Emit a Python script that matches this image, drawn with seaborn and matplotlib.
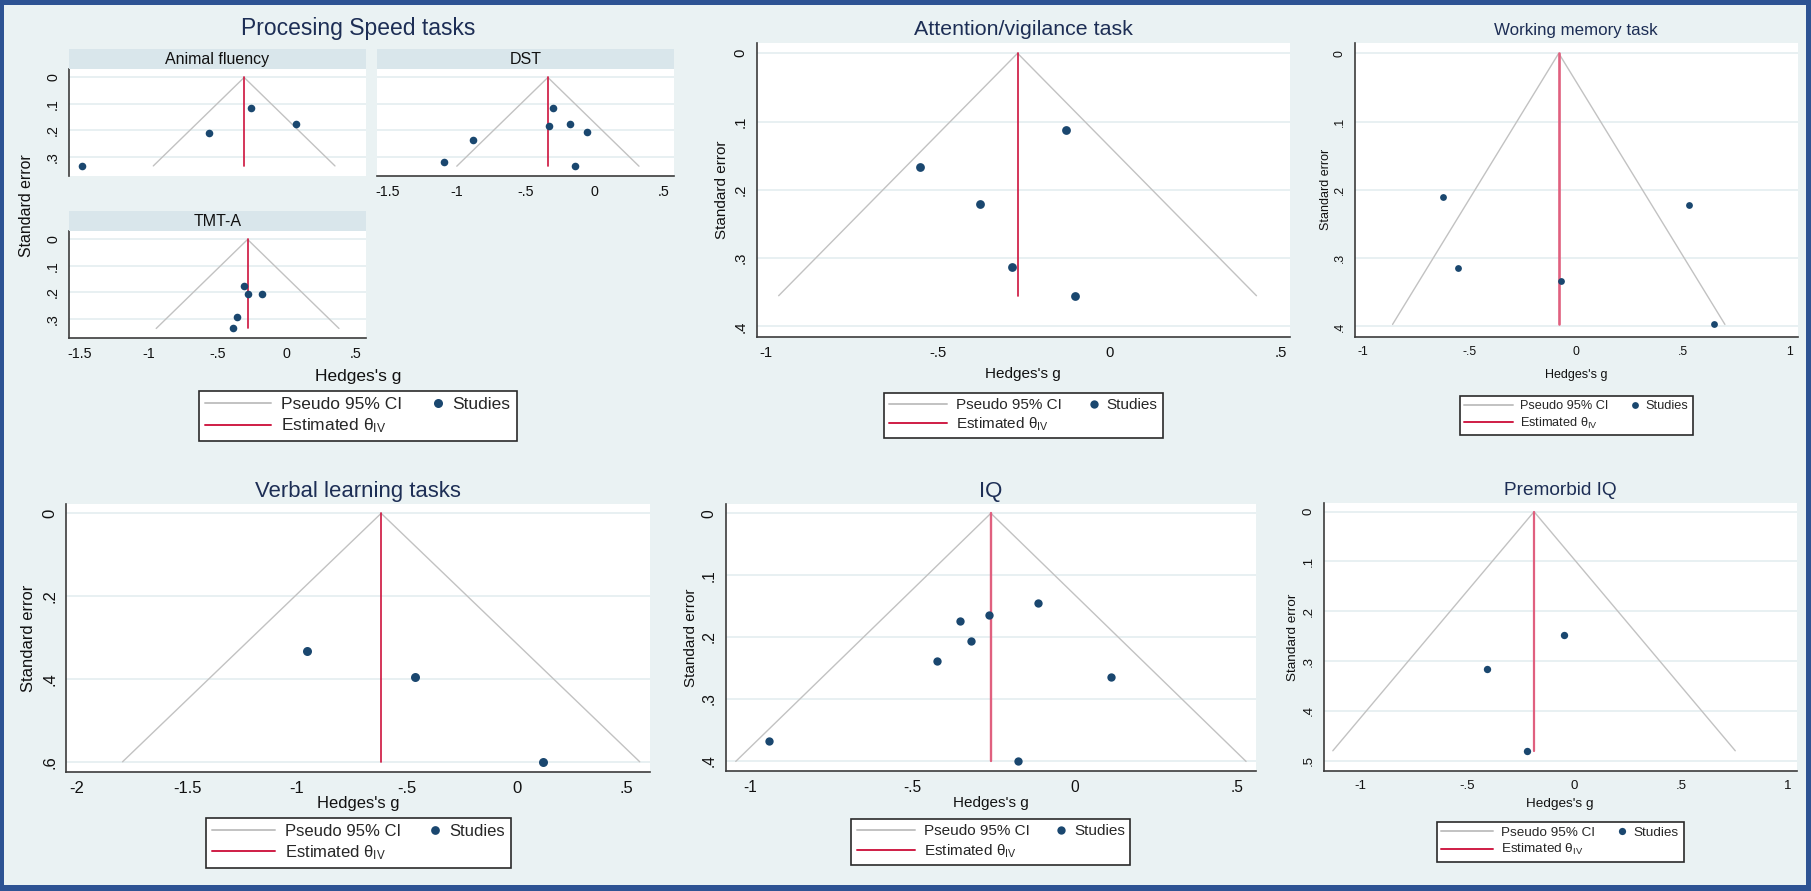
import matplotlib
matplotlib.use("Agg")
import matplotlib.pyplot as plt
from matplotlib.lines import Line2D
from matplotlib.patches import Rectangle
from matplotlib.legend_handler import HandlerBase
import seaborn as sns

# ---------------- data ----------------
animal_g = [-1.478, -0.562, -0.256, 0.069]
animal_se = [0.335, 0.210, 0.114, 0.177]
animal_theta = -0.309

dst_g = [-0.301, -0.329, -0.179, -0.053, -0.878, -1.088, -0.141]
dst_se = [0.114, 0.182, 0.177, 0.207, 0.235, 0.322, 0.336]
dst_theta = -0.339

tmt_g = [-0.309, -0.278, -0.181, -0.359, -0.390]
tmt_se = [0.175, 0.207, 0.206, 0.294, 0.337]
tmt_theta = -0.284

att_g = [-0.1245, -0.550, -0.377, -0.284, -0.099]
att_se = [0.113, 0.167, 0.220, 0.313, 0.355]
att_theta = -0.267

wm_g = [-0.623, -0.553, -0.072, 0.529, 0.645]
wm_se = [0.210, 0.315, 0.334, 0.2215, 0.397]
wm_theta = -0.081

verb_g = [-0.956, -0.465, 0.118]
verb_se = [0.333, 0.396, 0.600]
verb_theta = -0.617

iq_g = [-0.112, -0.263, -0.352, -0.319, -0.424, 0.111, -0.942, -0.176]
iq_se = [0.145, 0.165, 0.174, 0.207, 0.238, 0.265, 0.368, 0.401]
iq_theta = -0.258

pre_g = [-0.047, -0.405, -0.218]
pre_se = [0.248, 0.315, 0.480]
pre_theta = -0.187

panel_titles = ["Procesing Speed tasks", "Attention/vigilance task", "Working memory task",
                "Verbal learning tasks", "IQ", "Premorbid IQ"]
strip_titles = ["Animal fluency", "DST", "TMT-A"]
x_title = "Hedges's g"
y_title = "Standard error"
legend_labels = ["Pseudo 95% CI", r"Estimated $\mathrm{\theta}_{\mathrm{IV}}$", "Studies"]

# ---------------- style ----------------
NAVY = "#1a476f"
RED = "#cf1d45"
PINK = "#e0607f"
GRAY = "#c2c2c2"
BG = "#eaf2f3"
STRIP = "#d9e6eb"
GRID = "#e8f0f2"
SPINE = "#3c3c3c"
BORDER = "#2d5393"
TITLE_C = "#1d2e55"

sns.set_style("white")
plt.rcParams["font.family"] = ["Liberation Sans", "DejaVu Sans"]
plt.rcParams["axes.unicode_minus"] = False
plt.rcParams["mathtext.fontset"] = "custom"
plt.rcParams["mathtext.rm"] = "Liberation Sans"
plt.rcParams["mathtext.it"] = "Liberation Sans:italic"
plt.rcParams["mathtext.bf"] = "Liberation Sans:bold"

W, H = 1811, 891
fig = plt.figure(figsize=(W / 100, H / 100), dpi=100)
fig.patch.set_facecolor(BG)


def fbox(x0, y0, x1, y1):
    return [x0 / W, 1 - y1 / H, (x1 - x0) / W, (y1 - y0) / H]


def stata_fmt(v):
    s = f"{v:g}"
    if s.startswith("0."):
        s = s[1:]
    elif s.startswith("-0."):
        s = "-" + s[2:]
    return s


def draw_funnel(box, g, se, theta, xlim, ylim, xticks, yticks, tick_fs, dot_s,
                show_x=True, show_y=True, red=RED, red_lw=1.25):
    ax = fig.add_axes(fbox(*box))
    ax.set_facecolor("white")
    semax = max(se)
    half = 1.96 * semax
    sns.lineplot(x=[theta - half, theta, theta + half], y=[semax, 0.0, semax],
                 sort=False, estimator=None, color=GRAY, lw=1.0, ax=ax, zorder=2)
    sns.lineplot(x=[theta, theta], y=[0.0, semax], sort=False, estimator=None,
                 color=red, lw=red_lw, ax=ax, zorder=3)
    sns.scatterplot(x=g, y=se, color=NAVY, s=dot_s, linewidth=0, ax=ax, zorder=4)
    ax.set_xlim(*xlim)
    ax.set_ylim(ylim[1], ylim[0])
    ax.set_xlabel("")
    ax.set_ylabel("")
    ax.set_xticks(xticks, labels=[stata_fmt(v) for v in xticks])
    ax.set_yticks(yticks, labels=[stata_fmt(v) for v in yticks], rotation=90, va="center")
    ax.tick_params(axis="both", direction="out", length=3.6, width=1.0, color=SPINE,
                   labelsize=tick_fs, pad=3, labelcolor="#111111")
    for s in ["top", "right"]:
        ax.spines[s].set_visible(False)
    for s in ["left", "bottom"]:
        ax.spines[s].set_color(SPINE)
        ax.spines[s].set_linewidth(1.2)
    ax.set_axisbelow(True)
    ax.yaxis.grid(True, color=GRID, lw=1.4)
    ax.xaxis.grid(False)
    if not show_x:
        ax.spines["bottom"].set_visible(False)
        ax.tick_params(axis="x", bottom=False, labelbottom=False)
    if not show_y:
        ax.spines["left"].set_visible(False)
        ax.tick_params(axis="y", left=False, labelleft=False)
    return ax


class DotHandler(HandlerBase):
    def create_artists(self, legend, orig_handle, xdescent, ydescent, width, height,
                       fontsize, trans):
        x = width - xdescent - 0.25 * fontsize
        y = (height - ydescent) / 2.0
        ln = Line2D([x], [y], marker="o", ls="none", color=orig_handle.get_color(),
                    markersize=orig_handle.get_markersize(), markeredgewidth=0)
        ln.set_transform(trans)
        return [ln]


def add_legend(ax, center, fs, ms):
    h_ci = Line2D([], [], color=GRAY, lw=1.4)
    h_th = Line2D([], [], color=RED, lw=1.4)
    h_st = Line2D([], [], color=NAVY, marker="o", ls="none", markersize=ms)
    leg = ax.legend([h_ci, h_th, h_st], legend_labels, ncol=2, loc="center",
                    bbox_to_anchor=(center[0] / W, 1 - center[1] / H),
                    bbox_transform=fig.transFigure, fontsize=fs, frameon=True,
                    fancybox=False, framealpha=1, facecolor="white", edgecolor="#2a2a2a",
                    handlelength=3.8, handletextpad=0.6, columnspacing=-1.5,
                    borderpad=0.35, labelspacing=0.25, borderaxespad=0,
                    handler_map={h_st: DotHandler()})
    leg.get_frame().set_linewidth(1.2)
    return leg


def title(x, y, text, fs):
    fig.text(x / W, 1 - y / H, text, ha="center", va="baseline", fontsize=fs, color=TITLE_C)


def xlab(x, y, fs):
    fig.text(x / W, 1 - y / H, x_title, ha="center", va="baseline", fontsize=fs, color="#111111")


def ylab(x, y, fs):
    fig.text(x / W, 1 - y / H, y_title, ha="center", va="center", rotation=90,
             fontsize=fs, color="#111111")


def strip(box, text, fs):
    x0, y0, x1, y1 = box
    fig.patches.append(Rectangle((x0 / W, 1 - y1 / H), (x1 - x0) / W, (y1 - y0) / H,
                                 transform=fig.transFigure, facecolor=STRIP, edgecolor="none"))
    fig.text((x0 + x1) / 2 / W, 1 - (y0 + y1) / 2 / H, text, ha="center", va="center",
             fontsize=fs, color="#111111")


# ---------------- panel 1: processing speed (by-graph) ----------------
ps_xlim = (-1.572, 0.569)
ps_ylim = (-0.032, 0.372)
ps_xt = [-1.5, -1, -0.5, 0, 0.5]
ps_yt = [0, 0.1, 0.2, 0.3]
title(358, 35, panel_titles[0], 16.5)
strip((69.4, 49.3, 365.6, 69), strip_titles[0], 11.5)
strip((377.3, 49.3, 673.5, 69), strip_titles[1], 11.5)
strip((69.4, 211, 365.6, 231), strip_titles[2], 11.5)
draw_funnel((69.4, 69, 365.6, 175.7), animal_g, animal_se, animal_theta, ps_xlim, ps_ylim,
            ps_xt, ps_yt, 10.3, 30, show_x=False)
draw_funnel((377.3, 69, 673.5, 175.7), dst_g, dst_se, dst_theta, ps_xlim, ps_ylim,
            ps_xt, ps_yt, 10.3, 30, show_y=False)
ax_tmt = draw_funnel((69.4, 231, 365.6, 337.7), tmt_g, tmt_se, tmt_theta, ps_xlim, ps_ylim,
                     ps_xt, ps_yt, 10.3, 30)
xlab(358, 381.5, 12.5)
ylab(26.7, 205.5, 11.4)
add_legend(ax_tmt, ((196.4 + 519) / 2, (390.7 + 441.7) / 2), 12.5, 6.5)

# ---------------- panel 2: attention ----------------
title(1023, 34.7, panel_titles[1], 15.4)
ax_att = draw_funnel((756.6, 43.3, 1290.2, 336.7), att_g, att_se, att_theta,
                     (-1.027, 0.527), (-0.0146, 0.415), [-1, -0.5, 0, 0.5],
                     [0, 0.1, 0.2, 0.3, 0.4], 10.7, 40)
xlab(1023, 377.7, 11)
ylab(722.2, 189.5, 11)
add_legend(ax_att, ((881.8 + 1165) / 2, (390 + 441) / 2), 11, 6)

# ---------------- panel 3: working memory ----------------
title(1576, 34.7, panel_titles[2], 12.2)
ax_wm = draw_funnel((1355, 43.3, 1797.7, 336.7), wm_g, wm_se, wm_theta,
                    (-1.035, 1.038), (-0.0146, 0.415), [-1, -0.5, 0, 0.5, 1],
                    [0, 0.1, 0.2, 0.3, 0.4], 8.8, 24, red=PINK, red_lw=1.9)
xlab(1576, 377.7, 9)
ylab(1326, 189.5, 9)
add_legend(ax_wm, ((1458.7 + 1693.7) / 2, (390 + 441) / 2), 9.2, 4.9)

# ---------------- panel 4: verbal learning ----------------
title(358, 496.7, panel_titles[3], 15.9)
ax_vb = draw_funnel((66.3, 504, 649.6, 771.7), verb_g, verb_se, verb_theta,
                    (-2.049, 0.604), (-0.0225, 0.624), [-2, -1.5, -1, -0.5, 0, 0.5],
                    [0, 0.2, 0.4, 0.6], 12, 42)
xlab(358, 808.3, 11.9)
ylab(28.2, 638, 11.9)
add_legend(ax_vb, ((203.8 + 513) / 2, (819.3 + 866.7) / 2), 12, 6.3)

# ---------------- panel 5: IQ ----------------
title(990.8, 496.7, panel_titles[4], 16)
ax_iq = draw_funnel((725.5, 504, 1255.8, 770.7), iq_g, iq_se, iq_theta,
                    (-1.0755, 0.558), (-0.015, 0.416), [-1, -0.5, 0, 0.5],
                    [0, 0.1, 0.2, 0.3, 0.4], 11.2, 36, red=PINK, red_lw=1.7)
xlab(990.8, 807.3, 11)
ylab(691, 637.5, 11)
add_legend(ax_iq, ((850.3 + 1131.4) / 2, (818.3 + 865.7) / 2), 11, 6)

# ---------------- panel 6: premorbid IQ ----------------
title(1560, 495, panel_titles[5], 13.7)
ax_pre = draw_funnel((1324, 502.7, 1796.7, 770.7), pre_g, pre_se, pre_theta,
                     (-1.169, 1.041), (-0.018, 0.52), [-1, -0.5, 0, 0.5, 1],
                     [0, 0.1, 0.2, 0.3, 0.4, 0.5], 9.5, 28, red=PINK, red_lw=1.6)
xlab(1560, 806.7, 9.7)
ylab(1293, 637.5, 9.7)
add_legend(ax_pre, ((1434.7 + 1685.7) / 2, (818.3 + 865.7) / 2), 9.7, 5.2)

# ---------------- outer frame ----------------
for (x0, y0, x1, y1) in [(0, 0, W, 4.8), (0, 0, 4.3, H), (1805.7, 0, W, H), (0, 885.3, W, H)]:
    fig.patches.append(Rectangle((x0 / W, 1 - y1 / H), (x1 - x0) / W, (y1 - y0) / H,
                                 transform=fig.transFigure, facecolor=BORDER,
                                 edgecolor="none", zorder=10))

fig.savefig("out.png", dpi=100, facecolor=BG)
